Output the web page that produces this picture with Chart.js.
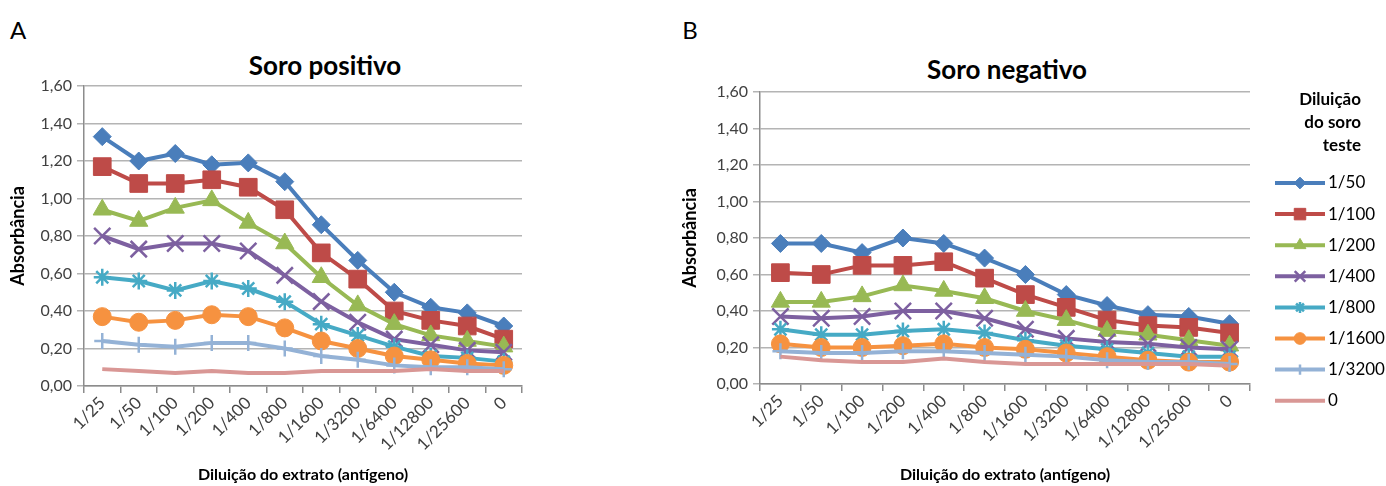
<!DOCTYPE html>
<html><head><meta charset="utf-8">
<script src="https://cdn.jsdelivr.net/npm/chart.js@4.4.0/dist/chart.umd.min.js"></script>
<style>
html,body{margin:0;padding:0;background:#fff;width:1386px;height:486px;overflow:hidden;}
.wrap{position:absolute;top:0;}
.lbl{position:absolute;font-family:Lato,"Open Sans",sans-serif;color:#000;white-space:nowrap;text-align:center;line-height:30px;height:30px;}
</style></head><body>
<div class="lbl" style="left:3px;top:15px;width:30px;font-size:24px;">A</div>
<div class="lbl" style="left:675px;top:15px;width:30px;font-size:24px;">B</div>
<div class="lbl" style="left:125px;top:50px;width:400px;font-size:26px;font-weight:bold;">Soro positivo</div>
<div class="lbl" style="left:807px;top:54px;width:400px;font-size:26px;font-weight:bold;">Soro negativo</div>
<div class="wrap" style="left:0;width:560px;height:486px;"><canvas id="cA" width="560" height="486"></canvas></div>
<div class="wrap" style="left:672px;width:714px;height:486px;"><canvas id="cB" width="714" height="486"></canvas></div>
<script>
// ---- data ----
const categories = ['1/25','1/50','1/100','1/200','1/400','1/800','1/1600','1/3200','1/6400','1/12800','1/25600','0'];
const seriesNames = ['1/50','1/100','1/200','1/400','1/800','1/1600','1/3200','0'];
const yTicks = [0,0.2,0.4,0.6,0.8,1.0,1.2,1.4,1.6];

// Soro positivo
const posA_1_50   = [1.33,1.20,1.24,1.18,1.19,1.09,0.86,0.67,0.50,0.42,0.39,0.32];
const posA_1_100  = [1.17,1.08,1.08,1.10,1.06,0.94,0.71,0.57,0.40,0.35,0.32,0.25];
const posA_1_200  = [0.94,0.88,0.95,0.99,0.87,0.76,0.58,0.43,0.33,0.27,0.24,0.21];
const posA_1_400  = [0.80,0.73,0.76,0.76,0.72,0.59,0.45,0.34,0.25,0.22,0.19,0.18];
const posA_1_800  = [0.58,0.56,0.51,0.56,0.52,0.45,0.33,0.27,0.21,0.16,0.15,0.13];
const posA_1_1600 = [0.37,0.34,0.35,0.38,0.37,0.31,0.24,0.20,0.16,0.14,0.12,0.11];
const posA_1_3200 = [0.24,0.22,0.21,0.23,0.23,0.20,0.16,0.14,0.11,0.10,0.10,0.09];
const posA_0      = [0.09,0.08,0.07,0.08,0.07,0.07,0.08,0.08,0.08,0.09,0.08,0.08];

// Soro negativo
const negB_1_50   = [0.77,0.77,0.72,0.80,0.77,0.69,0.60,0.49,0.43,0.38,0.37,0.33];
const negB_1_100  = [0.61,0.60,0.65,0.65,0.67,0.58,0.49,0.42,0.35,0.32,0.31,0.28];
const negB_1_200  = [0.45,0.45,0.48,0.54,0.51,0.47,0.40,0.35,0.29,0.27,0.24,0.21];
const negB_1_400  = [0.37,0.36,0.37,0.40,0.40,0.36,0.30,0.25,0.23,0.22,0.20,0.19];
const negB_1_800  = [0.30,0.27,0.27,0.29,0.30,0.28,0.24,0.21,0.19,0.17,0.15,0.15];
const negB_1_1600 = [0.22,0.20,0.20,0.21,0.22,0.20,0.19,0.17,0.15,0.13,0.12,0.12];
const negB_1_3200 = [0.18,0.17,0.17,0.18,0.18,0.17,0.16,0.15,0.13,0.12,0.12,0.11];
const negB_0      = [0.15,0.13,0.12,0.12,0.14,0.12,0.11,0.11,0.11,0.11,0.11,0.10];

const posSeries = [posA_1_50,posA_1_100,posA_1_200,posA_1_400,posA_1_800,posA_1_1600,posA_1_3200,posA_0];
const negSeries = [negB_1_50,negB_1_100,negB_1_200,negB_1_400,negB_1_800,negB_1_1600,negB_1_3200,negB_0];

// ---- styles ----
const colors = ['#4A7EBB','#BE4B48','#98B954','#7D60A0','#46AAC5','#F69240','#94B2D6','#D99795'];
const pStyles = ['rectRot','rect','triangle','crossRot','star','circle','cross','circle'];
const pRadius = [9,12.5,10.5,11.5,8.5,9,8,0];
const pBorder = [1,1,1,2.5,2.5,1,2.5,1];

const FONT = 'Lato';
const tickColor = '#404040';

function buildDatasets(series){
  return series.map((vals,i)=>({
    label: seriesNames[i],
    data: vals,
    borderColor: colors[i],
    backgroundColor: colors[i],
    borderWidth: 4,
    pointStyle: pStyles[i],
    pointRadius: pRadius[i],
    pointHoverRadius: pRadius[i],
    pointBackgroundColor: colors[i],
    pointBorderColor: colors[i],
    pointBorderWidth: pBorder[i],
    tension: 0,
    order: series.length - i
  }));
}

const sideLegend = {
  id: 'sideLegend',
  afterDraw(chart, args, o){
    if(!o || !o.show) return;
    const ctx = chart.ctx, ca = chart.chartArea;
    const x0 = ca.right + o.dx;
    ctx.save();
    ctx.fillStyle = '#000';
    ctx.textBaseline = 'middle';
    ctx.font = 'bold 17px ' + FONT;
    ctx.textAlign = 'right';
    o.title.forEach((t,i)=>ctx.fillText(t, x0 + o.titleRight, ca.top + o.titleTop + i*o.titleGap));
    ctx.textAlign = 'left';
    chart.data.datasets.forEach((ds,i)=>{
      const y = ca.top + o.itemsTop + i*o.itemGap;
      ctx.strokeStyle = ds.borderColor; ctx.lineWidth = 4; ctx.lineCap='butt';
      ctx.beginPath(); ctx.moveTo(x0, y); ctx.lineTo(x0 + o.lineLen, y); ctx.stroke();
      if(ds.pointRadius > 0){
        ctx.fillStyle = ds.pointBackgroundColor; ctx.strokeStyle = ds.pointBorderColor;
        ctx.lineWidth = ds.pointBorderWidth;
        Chart.helpers.drawPoint(ctx, {pointStyle: ds.pointStyle, radius: ds.pointRadius*0.65, rotation:0, borderWidth: ds.pointBorderWidth}, x0 + o.lineLen/2, y);
      }
      ctx.fillStyle = '#000';
      ctx.font = '17px ' + FONT;
      ctx.fillText(ds.label, x0 + o.lineLen + 3, y);
    });
    ctx.restore();
  }
};

function makeChart(id, series, pad, yW, xH, legendOpts){
  return new Chart(document.getElementById(id), {
    type: 'line',
    data: { labels: categories, datasets: buildDatasets(series) },
    plugins: [sideLegend],
    options: {
      responsive: false,
      animation: false,
      events: [],
      layout: { padding: pad },
      plugins: { legend: {display:false}, tooltip:{enabled:false}, title:{display:false}, sideLegend: legendOpts },
      scales: {
        x: {
          offset: true,
          grid: { offset: true, drawOnChartArea: false, drawTicks: true, tickLength: 7, color: '#8c8c8c', lineWidth: 1.5 },
          border: { color: '#8c8c8c', width: 1.5 },
          ticks: { autoSkip: false, maxRotation: 45, minRotation: 45, padding: 0, color: tickColor, font: {family: FONT, size: 17} },
          title: { display: true, text: 'Diluição do extrato (antígeno)', color: '#000', font: {family: FONT, size: 16, weight: 'bold'}, padding: {top: 2, bottom: 2} },
          afterFit: s => { s.height = xH; }
        },
        y: {
          min: 0, max: 1.6,
          afterBuildTicks: s => { s.ticks = yTicks.map(v => ({value: v})); },
          ticks: { color: tickColor, padding: 5, font: {family: FONT, size: 16}, callback: v => Number(v).toFixed(2).replace('.', ',') },
          grid: { color: '#b4b4b4', lineWidth: 1.5, tickLength: 7, drawTicks: true },
          border: { color: '#8c8c8c', width: 1.5 },
          title: { display: true, text: 'Absorbância', color: '#000', font: {family: FONT, size: 18, weight: 'bold'}, padding: {top: 7, bottom: 0} },
          afterFit: s => { s.width = yW; }
        }
      }
    }
  });
}

makeChart('cA', posSeries, {top: 86, right: 38, bottom: 0, left: 0}, 84, 100, {show:false});
makeChart('cB', negSeries, {top: 92, right: 136, bottom: 0, left: 0}, 88, 102,
  {show:true, dx:25, lineLen:50, title:['Diluição','do soro','teste'], titleRight:86, titleTop:8, titleGap:23, itemsTop:91, itemGap:31.1});
</script>
</body></html>
